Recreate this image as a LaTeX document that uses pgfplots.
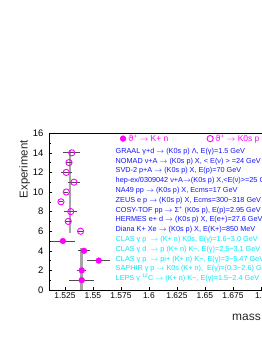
\documentclass[border=0pt]{standalone}
\usepackage{pgfplots}
\pgfplotsset{compat=1.18}
\usepackage{fontspec}
\setmainfont{Liberation Sans}
\newfontfamily\dv{DejaVu Sans}
\definecolor{mag}{RGB}{255,0,255}
\definecolor{lgray}{RGB}{165,165,165}
\definecolor{cyn}{RGB}{0,235,255}
\definecolor{blu}{RGB}{20,20,255}
\newcommand{\ar}{$\rightarrow$}
\newcommand{\tht}{{\dv ϑ}\textsuperscript{+}}
\begin{document}
\begin{tikzpicture}
\begin{axis}[
  at={(49bp,49bp)}, anchor=south west,
  scale only axis, width=267.9bp, height=156.8bp,
  xmin=1.5108, xmax=1.75, ymin=0, ymax=16,
  axis line style={line width=0.7bp, black},
  xtick={1.525,1.55,1.575,1.6,1.625,1.65,1.675,1.7,1.725,1.75},
  xticklabels={1.525,1.55,1.575,1.6,1.625,1.65,1.675,1.7,1.725,1.75},
  ytick={0,2,...,16}, minor ytick={1,3,...,15},
  tick align=inside, tick pos=left,
  major tick length=3bp, minor tick length=1.6bp,
  tick style={black, line width=0.5bp},
  xticklabel style={font=\fontsize{8.5}{9}\selectfont, yshift=0.5bp},
  yticklabel style={font=\fontsize{9.5}{10}\selectfont, xshift=-2bp},
  /pgf/number format/assume math mode=true,
  clip=false,
  error bars/error bar style={black!70, line width=0.8bp},
]
% average bands
\addplot[lgray, line width=2.5bp] coordinates {(1.5297,5.8) (1.5297,14.3)};
\addplot[lgray, line width=2.5bp] coordinates {(1.540,0) (1.540,4.3)};
% K0s p (open)
\addplot[only marks, mag, mark=o, mark size=3.1bp, mark options={line width=0.9bp, fill=white},
  error bars/.cd, x dir=both, x explicit, error mark=none]
  coordinates {
  (1.539,6) +- (0.002,0)
  (1.528,7) +- (0.0026,0)
  (1.5302,8) +- (0.006,0)
  (1.5215,9) +- (0.0015,0)
  (1.5262,10) +- (0.002,0)
  (1.5331,11) +- (0.0052,0)
  (1.5262,12) +- (0.0048,0)
  (1.5287,13) +- (0.0025,0)
  (1.5311,14) +- (0.0075,0)
  };
% K+ n (filled)
\addplot[only marks, mag, mark=*, mark size=2.9bp, mark options={fill=mag},
  error bars/.cd, x dir=both, x explicit, error mark=none]
  coordinates {
  (1.540,1) +- (0.0113,0)
  (1.540,2) +- (0.0042,0)
  (1.5552,3) +- (0.0101,0)
  (1.5421,4) +- (0.0052,0)
  (1.5232,5) +- (0.0108,0)
  };
% header markers
\addplot[only marks, mag, mark=*, mark size=2.9bp, mark options={fill=mag}] coordinates {(1.5769,15.45)};
\addplot[only marks, mag, mark=o, mark size=3.1bp, mark options={line width=0.9bp}] coordinates {(1.6547,15.45)};
\node[anchor=base west, inner sep=0, text=mag, font=\fontsize{8.5}{9}\selectfont] at (axis cs:1.5814,15.13) {\tht\ \ar\ K+ n};
\node[anchor=base west, inner sep=0, text=mag, font=\fontsize{8.5}{9}\selectfont] at (axis cs:1.6592,15.13) {\tht\ \ar\ K0s p};
% labels
\begin{scope}[every node/.style={anchor=base west, inner sep=0, font=\fontsize{7.3}{8}\selectfont}]
\node[text=blu] at (axis cs:1.5702,13.95) {GRAAL γ+d \ar\ (K0s p) Λ, E(γ)=1.5 GeV};
\node[text=blu] at (axis cs:1.5702,12.95) {NOMAD ν+A \ar\ (K0s p) X, < E(ν) > =24 GeV};
\node[text=blu] at (axis cs:1.5702,11.95) {SVD-2 p+A \ar\ (K0s p) X, E(p)=70 GeV};
\node[text=blu] at (axis cs:1.5702,10.95) {hep-ex/0309042 ν+A\ar(K0s p) X,<E(ν)>=25 GeV};
\node[text=blu] at (axis cs:1.5702,9.95) {NA49 pp \ar\ (K0s p) X, Ecms=17 GeV};
\node[text=blu] at (axis cs:1.5702,8.95) {ZEUS e p \ar\ (K0s p) X, Ecms=300−318 GeV};
\node[text=blu] at (axis cs:1.5702,7.95) {COSY-TOF pp \ar\ Σ\textsuperscript{+} (K0s p), E(p)=2.95 GeV};
\node[text=blu] at (axis cs:1.5702,6.95) {HERMES e+ d \ar\ (K0s p) X, E(e+)=27.6 GeV};
\node[text=blu] at (axis cs:1.5702,5.95) {Diana K+ Xe \ar\ (K0s p) X, E(K+)=850 MeV};
\node[text=cyn] at (axis cs:1.5702,4.95) {CLAS γ p \ \ar\ (K+ n) K0s, E(γ)=1.6−3.0 GeV};
\node[text=cyn] at (axis cs:1.5702,3.95) {CLAS γ d \ \ar\ p (K+ n) K−, E(γ)=2.5−3.1 GeV};
\node[text=cyn] at (axis cs:1.5702,2.95) {CLAS γ p \ \ar\ pi+ (K+ n) K−, E(γ)=3−5.47 GeV};
\node[text=cyn] at (axis cs:1.5702,1.95) {SAPHIR γ p \ar\ K0s (K+ n), \ E(γ)=(0.3−2.6) GeV};
\node[text=cyn] at (axis cs:1.5702,0.95) {LEPS γ \textsuperscript{12}C \ar\ (K+ n) K−, E(γ)=1.5−2.4 GeV};
\end{scope}
\end{axis}
\node[rotate=90, anchor=base east, inner sep=0, text=black!85, font=\fontsize{11.5}{12}\selectfont] at (27.5bp,199bp) {Experiment};
\node[anchor=base west, inner sep=0, text=black!85, font=\fontsize{12}{13}\selectfont] at (232bp,19bp) {mass (GeV)};
\pgfresetboundingbox
\path[use as bounding box] (0,0) rectangle (262bp,339bp);
\end{tikzpicture}
\end{document}
